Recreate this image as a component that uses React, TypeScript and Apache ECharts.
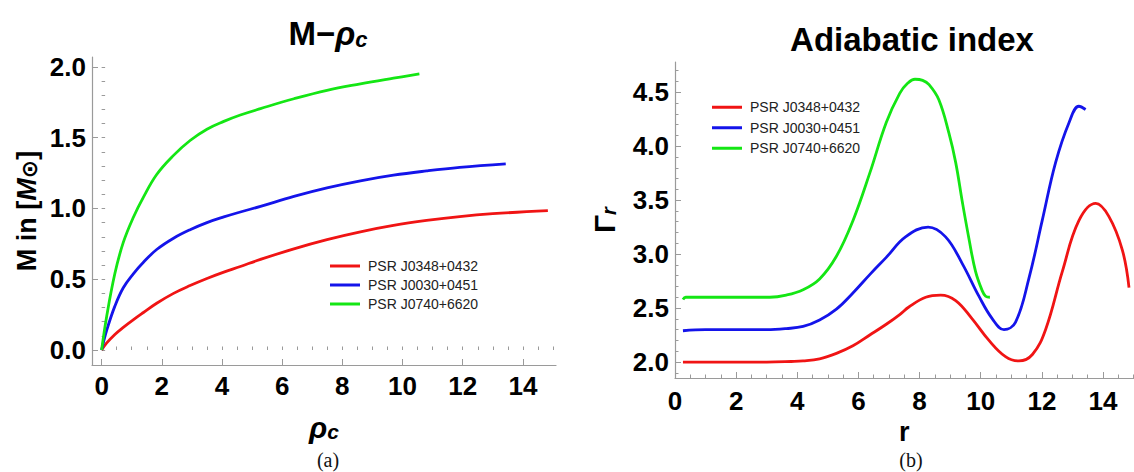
import React, { useEffect, useRef } from "react";
import * as echarts from "echarts";

// ---------- Panel (a): M - rho_c ----------
const names = ["PSR J0348+0432", "PSR J0030+0451", "PSR J0740+6620"];
const colors = ["#f01414", "#1414ea", "#14e614"];

const rhoRed = [0, 0.17, 0.44, 0.72, 1.06, 1.39, 1.83, 2.39, 2.94, 3.5, 4.06, 4.61, 5.28, 6.39, 7.49, 8.6, 9.7, 10.8, 11.9, 13.0, 14.83];
const mRed = [0, 0.05, 0.11, 0.16, 0.215, 0.265, 0.33, 0.4, 0.455, 0.505, 0.55, 0.59, 0.64, 0.715, 0.78, 0.835, 0.88, 0.915, 0.943, 0.963, 0.985];

const rhoBlue = [0, 0.17, 0.44, 0.72, 1.06, 1.39, 1.83, 2.39, 2.94, 3.5, 4.06, 4.61, 5.28, 6.39, 7.49, 8.6, 9.7, 10.8, 11.9, 13.43];
const mBlue = [0, 0.14, 0.31, 0.44, 0.54, 0.62, 0.71, 0.79, 0.85, 0.9, 0.94, 0.975, 1.015, 1.085, 1.145, 1.195, 1.235, 1.265, 1.29, 1.315];

const rhoGreen = [0, 0.17, 0.44, 0.72, 1.06, 1.39, 1.83, 2.39, 2.94, 3.5, 4.06, 4.61, 5.28, 6.39, 7.49, 8.6, 9.7, 10.56];
const mGreen = [0, 0.24, 0.54, 0.76, 0.94, 1.08, 1.24, 1.375, 1.48, 1.56, 1.615, 1.66, 1.705, 1.775, 1.835, 1.88, 1.92, 1.95];

const xMajorA = [0, 2, 4, 6, 8, 10, 12, 14];
const xMinorA = [0, 0.5, 1, 1.5, 2, 2.5, 3, 3.5, 4, 4.5, 5, 5.5, 6, 6.5, 7, 7.5, 8, 8.5, 9, 9.5, 10, 10.5, 11, 11.5, 12, 12.5, 13, 13.5, 14, 14.5, 15];
const yMajorA = [0, 0.5, 1, 1.5, 2];
const yMinorA = [0, 0.1, 0.2, 0.3, 0.4, 0.5, 0.6, 0.7, 0.8, 0.9, 1, 1.1, 1.2, 1.3, 1.4, 1.5, 1.6, 1.7, 1.8, 1.9, 2];

// ---------- Panel (b): Adiabatic index ----------
const rRed = [0.26, 1, 2, 3, 3.8, 4.19, 4.73, 5.28, 5.82, 6.37, 6.91, 7.35, 7.65, 8.2, 8.69, 9.18, 9.72, 10.27, 10.81, 11.25, 11.69, 12.12, 12.67, 13.21, 13.76, 14.19, 14.63, 14.85];
const gRed = [2.0, 2.0, 2.0, 2.0, 2.005, 2.01, 2.03, 2.08, 2.15, 2.25, 2.35, 2.44, 2.51, 2.6, 2.62, 2.57, 2.4, 2.2, 2.05, 2.01, 2.07, 2.3, 2.84, 3.31, 3.47, 3.35, 3.04, 2.69];

const rBlue = [0.26, 1, 2, 3, 3.64, 4.19, 4.73, 5.28, 5.82, 6.37, 6.91, 7.54, 8.28, 8.85, 9.4, 9.94, 10.38, 10.76, 11.14, 11.58, 12.01, 12.45, 12.89, 13.21, 13.43];
const gBlue = [2.29, 2.3, 2.3, 2.3, 2.31, 2.33, 2.39, 2.49, 2.64, 2.81, 2.97, 3.16, 3.25, 3.16, 2.91, 2.61, 2.4, 2.3, 2.37, 2.78, 3.31, 3.85, 4.22, 4.37, 4.34];

const rGreen = [0.26, 0.35, 1, 2, 3.1, 3.64, 4.19, 4.73, 5.28, 5.82, 6.37, 6.91, 7.35, 7.6, 7.85, 8.1, 8.31, 8.63, 8.96, 9.18, 9.4, 9.61, 9.83, 10.05, 10.16, 10.3];
const gGreen = [2.58, 2.6, 2.6, 2.6, 2.6, 2.62, 2.67, 2.77, 2.98, 3.31, 3.75, 4.22, 4.49, 4.58, 4.62, 4.61, 4.57, 4.43, 4.12, 3.85, 3.48, 3.15, 2.84, 2.66, 2.61, 2.6];

const xMajorB = [0, 2, 4, 6, 8, 10, 12, 14];
const xMinorB = xMinorA;
const yMajorB = [2, 2.5, 3, 3.5, 4, 4.5];
const yMinorB = [1.9, 2, 2.1, 2.2, 2.3, 2.4, 2.5, 2.6, 2.7, 2.8, 2.9, 3, 3.1, 3.2, 3.3, 3.4, 3.5, 3.6, 3.7, 3.8, 3.9, 4, 4.1, 4.2, 4.3, 4.4, 4.5, 4.6, 4.7];

const zip = (xs: number[], ys: number[]) => xs.map((x, i) => [x, ys[i]]);

const FONT = "'Liberation Sans', Arial, 'DejaVu Sans', sans-serif";
const AX = "#9a9a9a";

function majorX(grid: number, min: number, max: number, ticks: number[], margin: number, name: any, nameGap: number, rich: any) {
  return {
    gridIndex: grid, type: "value", position: "bottom", min, max,
    axisLine: { show: true, onZero: false, lineStyle: { color: AX, width: 1.2 } },
    axisTick: { show: true, inside: true, length: 6, customValues: ticks, lineStyle: { color: AX, width: 1 } },
    axisLabel: { show: true, customValues: ticks, formatter: (v: number) => String(v), fontSize: 26, fontWeight: "bold", color: "#000", fontFamily: FONT, margin },
    splitLine: { show: false },
    name, nameLocation: "middle", nameGap,
    nameTextStyle: { rich },
  };
}
function minorX(grid: number, min: number, max: number, ticks: number[]) {
  return {
    gridIndex: grid, type: "value", position: "bottom", min, max,
    axisLine: { show: false },
    axisTick: { show: true, inside: true, length: 3.5, customValues: ticks, lineStyle: { color: AX, width: 1 } },
    axisLabel: { show: false },
    splitLine: { show: false },
  };
}
function majorY(grid: number, min: number, max: number, ticks: number[], name: any, nameGap: number, rich: any) {
  return {
    gridIndex: grid, type: "value", position: "left", min, max,
    axisLine: { show: true, onZero: false, lineStyle: { color: AX, width: 1.2 } },
    axisTick: { show: true, inside: true, length: 6, customValues: ticks, lineStyle: { color: AX, width: 1 } },
    axisLabel: { show: true, customValues: ticks, formatter: (v: number) => v.toFixed(1), fontSize: 26, fontWeight: "bold", color: "#000", fontFamily: FONT, margin: 6 },
    splitLine: { show: false },
    name, nameLocation: "middle", nameGap, nameRotate: 90,
    nameTextStyle: { rich },
  };
}
function minorY(grid: number, min: number, max: number, ticks: number[]) {
  return {
    gridIndex: grid, type: "value", position: "left", min, max,
    axisLine: { show: false },
    axisTick: { show: true, inside: true, length: 3.5, customValues: ticks, lineStyle: { color: AX, width: 1 } },
    axisLabel: { show: false },
    splitLine: { show: false },
  };
}

const bold = (size: number, extra: any = {}) => ({ fontSize: size, fontWeight: "bold", fontFamily: FONT, color: "#000", ...extra });
const legendText = (lh: number) => ({ fontSize: 14, lineHeight: lh, color: "#222", fontFamily: FONT, padding: [0, 0, 0, 3] });
const capStyle = { fontSize: 20, lineHeight: 22, fontWeight: "normal", fontFamily: "'Liberation Serif', 'DejaVu Serif', serif", color: "#111" };

export default function App() {
  const ref = useRef<HTMLDivElement>(null);
  useEffect(() => {
    if (!ref.current) return;
    const chart = echarts.init(ref.current, undefined, { renderer: "svg" });

    const lineSeries = (name: string, color: string, data: number[][], xi: number, yi: number) => ({
      type: "line", name, data, xAxisIndex: xi, yAxisIndex: yi,
      smooth: 0.4, showSymbol: false, symbol: "none",
      lineStyle: { color, width: 2.8 }, itemStyle: { color },
      emphasis: { disabled: true }, silent: true,
    });

    const option: any = {
      animation: false,
      backgroundColor: "#ffffff",
      title: [
        {
          text: "{m|M−}{g|ρ}{s|c}", left: 323, top: 9, textAlign: "center",
          textStyle: { rich: { m: bold(33, { verticalAlign: "bottom", lineHeight: 36 }), g: bold(33, { fontStyle: "italic", verticalAlign: "bottom", lineHeight: 36 }), s: bold(22, { fontStyle: "italic", verticalAlign: "bottom", lineHeight: 12 }) } },
        },
        {
          text: "Adiabatic index", left: 907, top: 18, textAlign: "center",
          textStyle: bold(33),
        },
        { text: "(a)", left: 323, top: 444, textAlign: "center", textStyle: capStyle },
        { text: "(b)", left: 906, top: 444, textAlign: "center", textStyle: capStyle },
      ],
      legend: [
        {
          data: names, orient: "vertical", left: 325, top: 251.5, itemGap: 0, itemWidth: 30, itemHeight: 3, icon: "rect",
          textStyle: legendText(19), selectedMode: false,
        },
        {
          data: names, orient: "vertical", left: 707, top: 92, itemGap: 0, itemWidth: 30, itemHeight: 3, icon: "rect",
          textStyle: legendText(20.5), selectedMode: false,
        },
      ],
      grid: [
        { left: 92, top: 57, width: 464, height: 308, containLabel: false },
        { left: 675, top: 62, width: 458.6, height: 316, containLabel: false },
      ],
      xAxis: [
        majorX(0, -0.32, 15.1, xMajorA, 8, "{g|ρ}{s|c}", 47, { g: bold(30, { fontStyle: "italic", verticalAlign: "bottom", lineHeight: 30 }), s: bold(21, { fontStyle: "italic", verticalAlign: "bottom", lineHeight: 10 }) }),
        minorX(0, -0.32, 15.1, xMinorA),
        majorX(1, 0, 15, xMajorB, 10, "{r|r}", 40, { r: bold(27, { lineHeight: 26 }) }),
        minorX(1, 0, 15, xMinorB),
      ],
      yAxis: [
        majorY(0, -0.106, 2.07, yMajorA, "{a|M in [}{i|M}{o|⊙}{a|]}", 52, { a: bold(27), i: bold(27, { fontStyle: "italic" }), o: bold(22, { fontFamily: "'DejaVu Sans', sans-serif", verticalAlign: "bottom", lineHeight: 20 }) }),
        minorY(0, -0.106, 2.07, yMinorA),
        majorY(1, 1.852, 4.78, yMajorB, "{g|Γ}{s|r}", 56, { g: bold(30, { verticalAlign: "bottom", lineHeight: 30 }), s: bold(20, { fontStyle: "italic", verticalAlign: "bottom", lineHeight: 10 }) }),
        minorY(1, 1.852, 4.78, yMinorB),
      ],
      series: [
        lineSeries(names[0], colors[0], zip(rhoRed, mRed), 0, 0),
        lineSeries(names[1], colors[1], zip(rhoBlue, mBlue), 0, 0),
        lineSeries(names[2], colors[2], zip(rhoGreen, mGreen), 0, 0),
        lineSeries(names[0], colors[0], zip(rRed, gRed), 2, 2),
        lineSeries(names[1], colors[1], zip(rBlue, gBlue), 2, 2),
        lineSeries(names[2], colors[2], zip(rGreen, gGreen), 2, 2),
      ],
    };
    chart.setOption(option);
    return () => chart.dispose();
  }, []);
  return <div ref={ref} style={{ width: 1134, height: 472, position: "fixed", left: 0, top: 0, background: "#fff" }} />;
}
